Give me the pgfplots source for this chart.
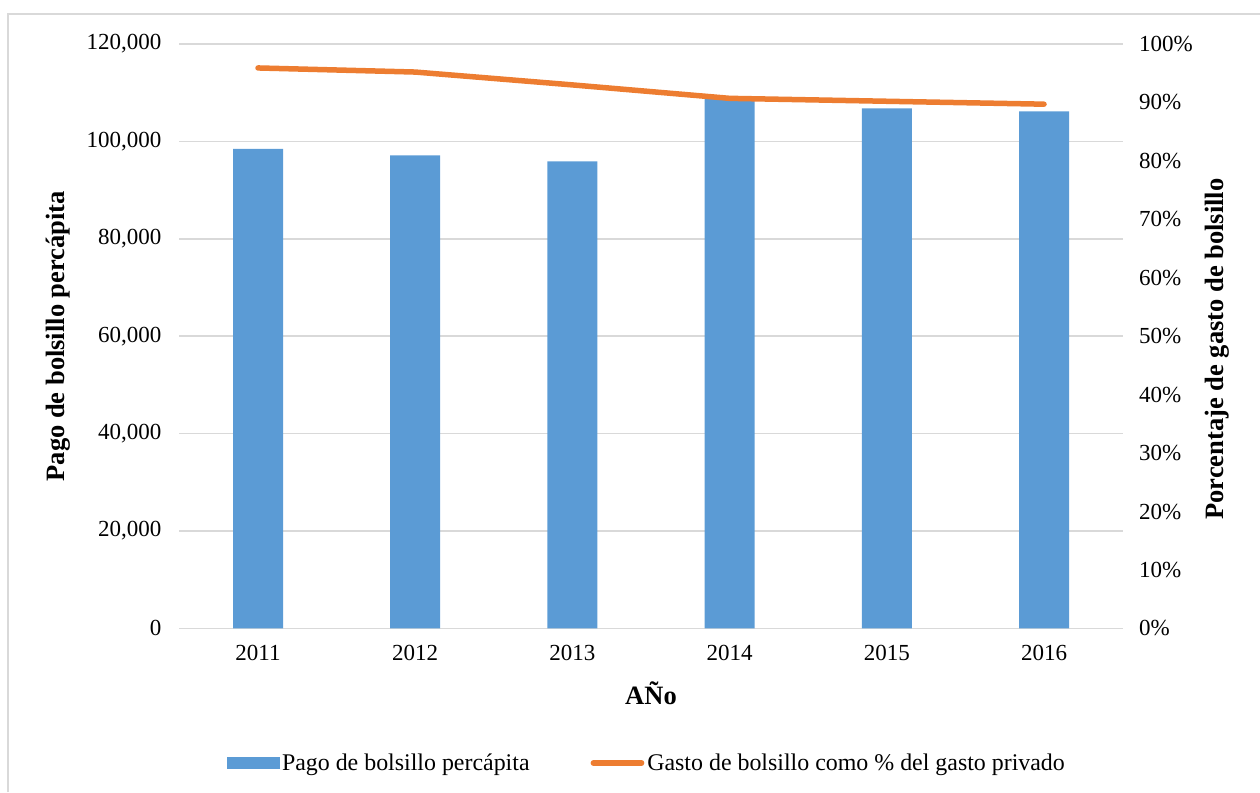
\documentclass[border=0pt]{standalone}
\usepackage{pgfplots}
\pgfplotsset{compat=1.18}
\usepackage{fontspec}
\setmainfont{Liberation Serif}
\definecolor{barblue}{HTML}{5B9BD5}
\definecolor{lineorange}{HTML}{ED7D31}
\definecolor{gridgray}{HTML}{D9D9D9}

\begin{document}
\begin{tikzpicture}[x=1pt,y=1pt]
\useasboundingbox (0,0) rectangle (1260,792);
\draw[gridgray, line width=1.5pt] (8,0) -- (8,778) -- (1260,778);
\pgfplotsset{
  base/.style={
    scale only axis, width=943.2pt, height=584.4pt,
    at={(179.4pt,163.6pt)}, anchor=south west,
    xmin=-0.5, xmax=5.5, ymin=0,
    axis line style={draw=none},
    major tick length=0pt,
    tick style={draw=none},
    scaled y ticks=false,
    tick label style={font=\fontsize{23}{27}\selectfont},
  }
}
\begin{axis}[base,
  ymax=120000,
  ytick={0,20000,40000,60000,80000,100000,120000},
  yticklabels={0,{20,000},{40,000},{60,000},{80,000},{100,000},{120,000}},
  y tick label style={xshift=-14.4pt},
  ymajorgrids, grid style={gridgray, line width=1.5pt},
  xtick={0,1,2,3,4,5},
  xticklabels={2011,2012,2013,2014,2015,2016},
  x tick label style={yshift=-12.9pt},
  xlabel={AÑo},
  xlabel style={at={(axis description cs:0.5,-0.1294)}, anchor=base, font=\bfseries\fontsize{26.5}{30}\selectfont},
  ylabel={Pago de bolsillo percápita},
  ylabel style={at={(axis description cs:-0.1287,0.5)}, anchor=center, font=\bfseries\fontsize{26.5}{30}\selectfont},
]
\addplot[ybar, bar width=50pt, fill=barblue, draw=none] coordinates {
  (0,98440) (1,97150) (2,95910) (3,109000) (4,106800) (5,106180)
};
\end{axis}
\begin{axis}[base,
  ymax=100,
  ytick={0,10,20,30,40,50,60,70,80,90,100},
  yticklabels={0\%,10\%,20\%,30\%,40\%,50\%,60\%,70\%,80\%,90\%,100\%},
  yticklabel pos=right,
  y tick label style={xshift=13pt},
  hide x axis,
  ylabel={Porcentaje de gasto de bolsillo},
  ylabel style={at={(axis description cs:1.1001,0.478)}, anchor=center, font=\bfseries\fontsize{26.5}{30}\selectfont},
  legend style={at={(axis description cs:0.496,-0.2303)}, anchor=center, draw=none, fill=none,
    font=\fontsize{23.9}{28}\selectfont, legend columns=2,
    nodes={inner sep=3pt},
    /tikz/every even column/.append style={column sep=58pt}},
]
\addlegendimage{legend image code/.code={\fill[barblue] (0pt,-5.5pt) rectangle (52pt,5.5pt);}}
\addlegendentry{Pago de bolsillo percápita}
\addplot[lineorange, line width=5.5pt, line cap=round, line join=round, mark=none,
  legend image code/.code={\draw[lineorange, line width=5.5pt, line cap=round] (2.75pt,0pt) -- (51pt,0pt);}]
  coordinates {(0,95.9) (1,95.2) (2,93.0) (3,90.7) (4,90.2) (5,89.7)};
\addlegendentry{Gasto de bolsillo como \% del gasto privado}
\end{axis}
\end{tikzpicture}
\end{document}
